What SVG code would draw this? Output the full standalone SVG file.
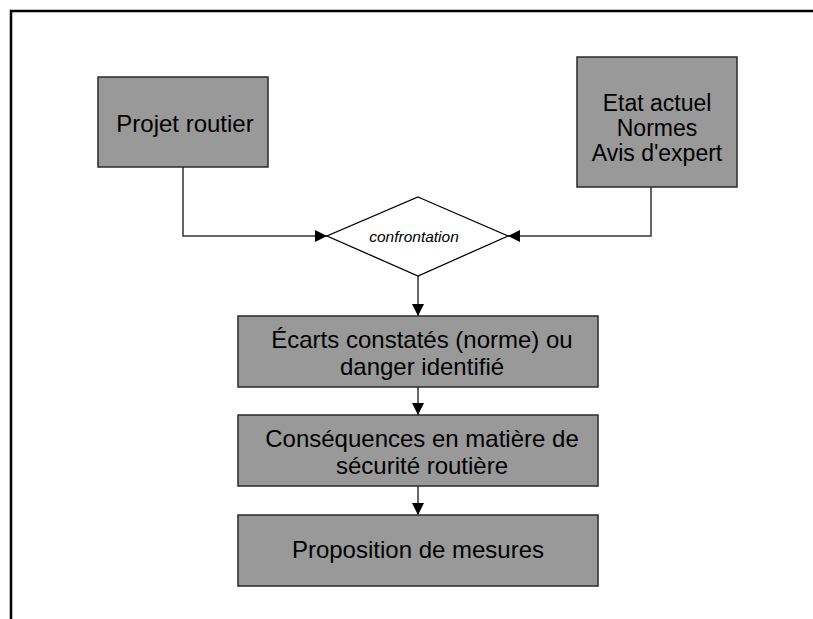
<svg xmlns="http://www.w3.org/2000/svg" width="813" height="619" viewBox="0 0 813 619">
  <style>
    .box { fill: #999999; stroke: #2a2a2a; stroke-width: 1.5; }
    .dec { fill: #ffffff; stroke: #000000; stroke-width: 1.3; }
    .lbl { font-family: "Liberation Sans", Arial, sans-serif; font-size: 24px; fill: #000000; text-anchor: middle; }
    .lbl-s { font-family: "Liberation Sans", Arial, sans-serif; font-size: 23px; fill: #000000; text-anchor: middle; }
    .it { font-family: "Liberation Sans", Arial, sans-serif; font-size: 15.5px; font-style: italic; fill: #000000; text-anchor: middle; }
    .edge { fill: none; stroke: #333333; stroke-width: 1.5; }
    .frame { fill: none; stroke: #000000; stroke-width: 2.5; }
  </style>
  <defs>
    <marker id="head" viewBox="0 0 12 12" refX="12" refY="6" markerWidth="12" markerHeight="12" markerUnits="userSpaceOnUse" orient="auto">
      <path d="M0,0 L12,6 L0,12 Z" fill="#000000"/>
    </marker>
  </defs>
  <rect width="813" height="619" fill="#ffffff"/>

  <!-- page frame -->
  <path class="frame" d="M11,619 V11 H813"/>

  <g id="connectors">
    <path class="edge" d="M183,167 V236 H327" marker-end="url(#head)"/>
    <path class="edge" d="M651,187 V236 H508" marker-end="url(#head)"/>
    <path class="edge" d="M418,276 V316" marker-end="url(#head)"/>
    <path class="edge" d="M418,387 V415" marker-end="url(#head)"/>
    <path class="edge" d="M418,486 V515" marker-end="url(#head)"/>
  </g>

  <g id="projet">
    <rect class="box" x="98" y="77" width="170" height="90"/>
    <text class="lbl" x="185" y="132">Projet routier</text>
  </g>

  <g id="etat">
    <rect class="box" x="577" y="57" width="160" height="130"/>
    <text class="lbl-s" x="657" y="111">Etat actuel</text>
    <text class="lbl-s" x="657" y="136">Normes</text>
    <text class="lbl-s" x="657" y="161">Avis d'expert</text>
  </g>

  <g id="confrontation">
    <polygon class="dec" points="418,197 508,236 418,276 327,236"/>
    <text class="it" x="414" y="242">confrontation</text>
  </g>

  <g id="ecarts">
    <rect class="box" x="238" y="316" width="360" height="71"/>
    <text class="lbl" x="422" y="348">Écarts constatés (norme) ou</text>
    <text class="lbl" x="422" y="375">danger identifié</text>
  </g>

  <g id="consequences">
    <rect class="box" x="238" y="415" width="360" height="71"/>
    <text class="lbl" x="422" y="447">Conséquences en matière de</text>
    <text class="lbl" x="422" y="474">sécurité routière</text>
  </g>

  <g id="mesures">
    <rect class="box" x="238" y="515" width="360" height="71"/>
    <text class="lbl" x="418" y="558">Proposition de mesures</text>
  </g>
</svg>
